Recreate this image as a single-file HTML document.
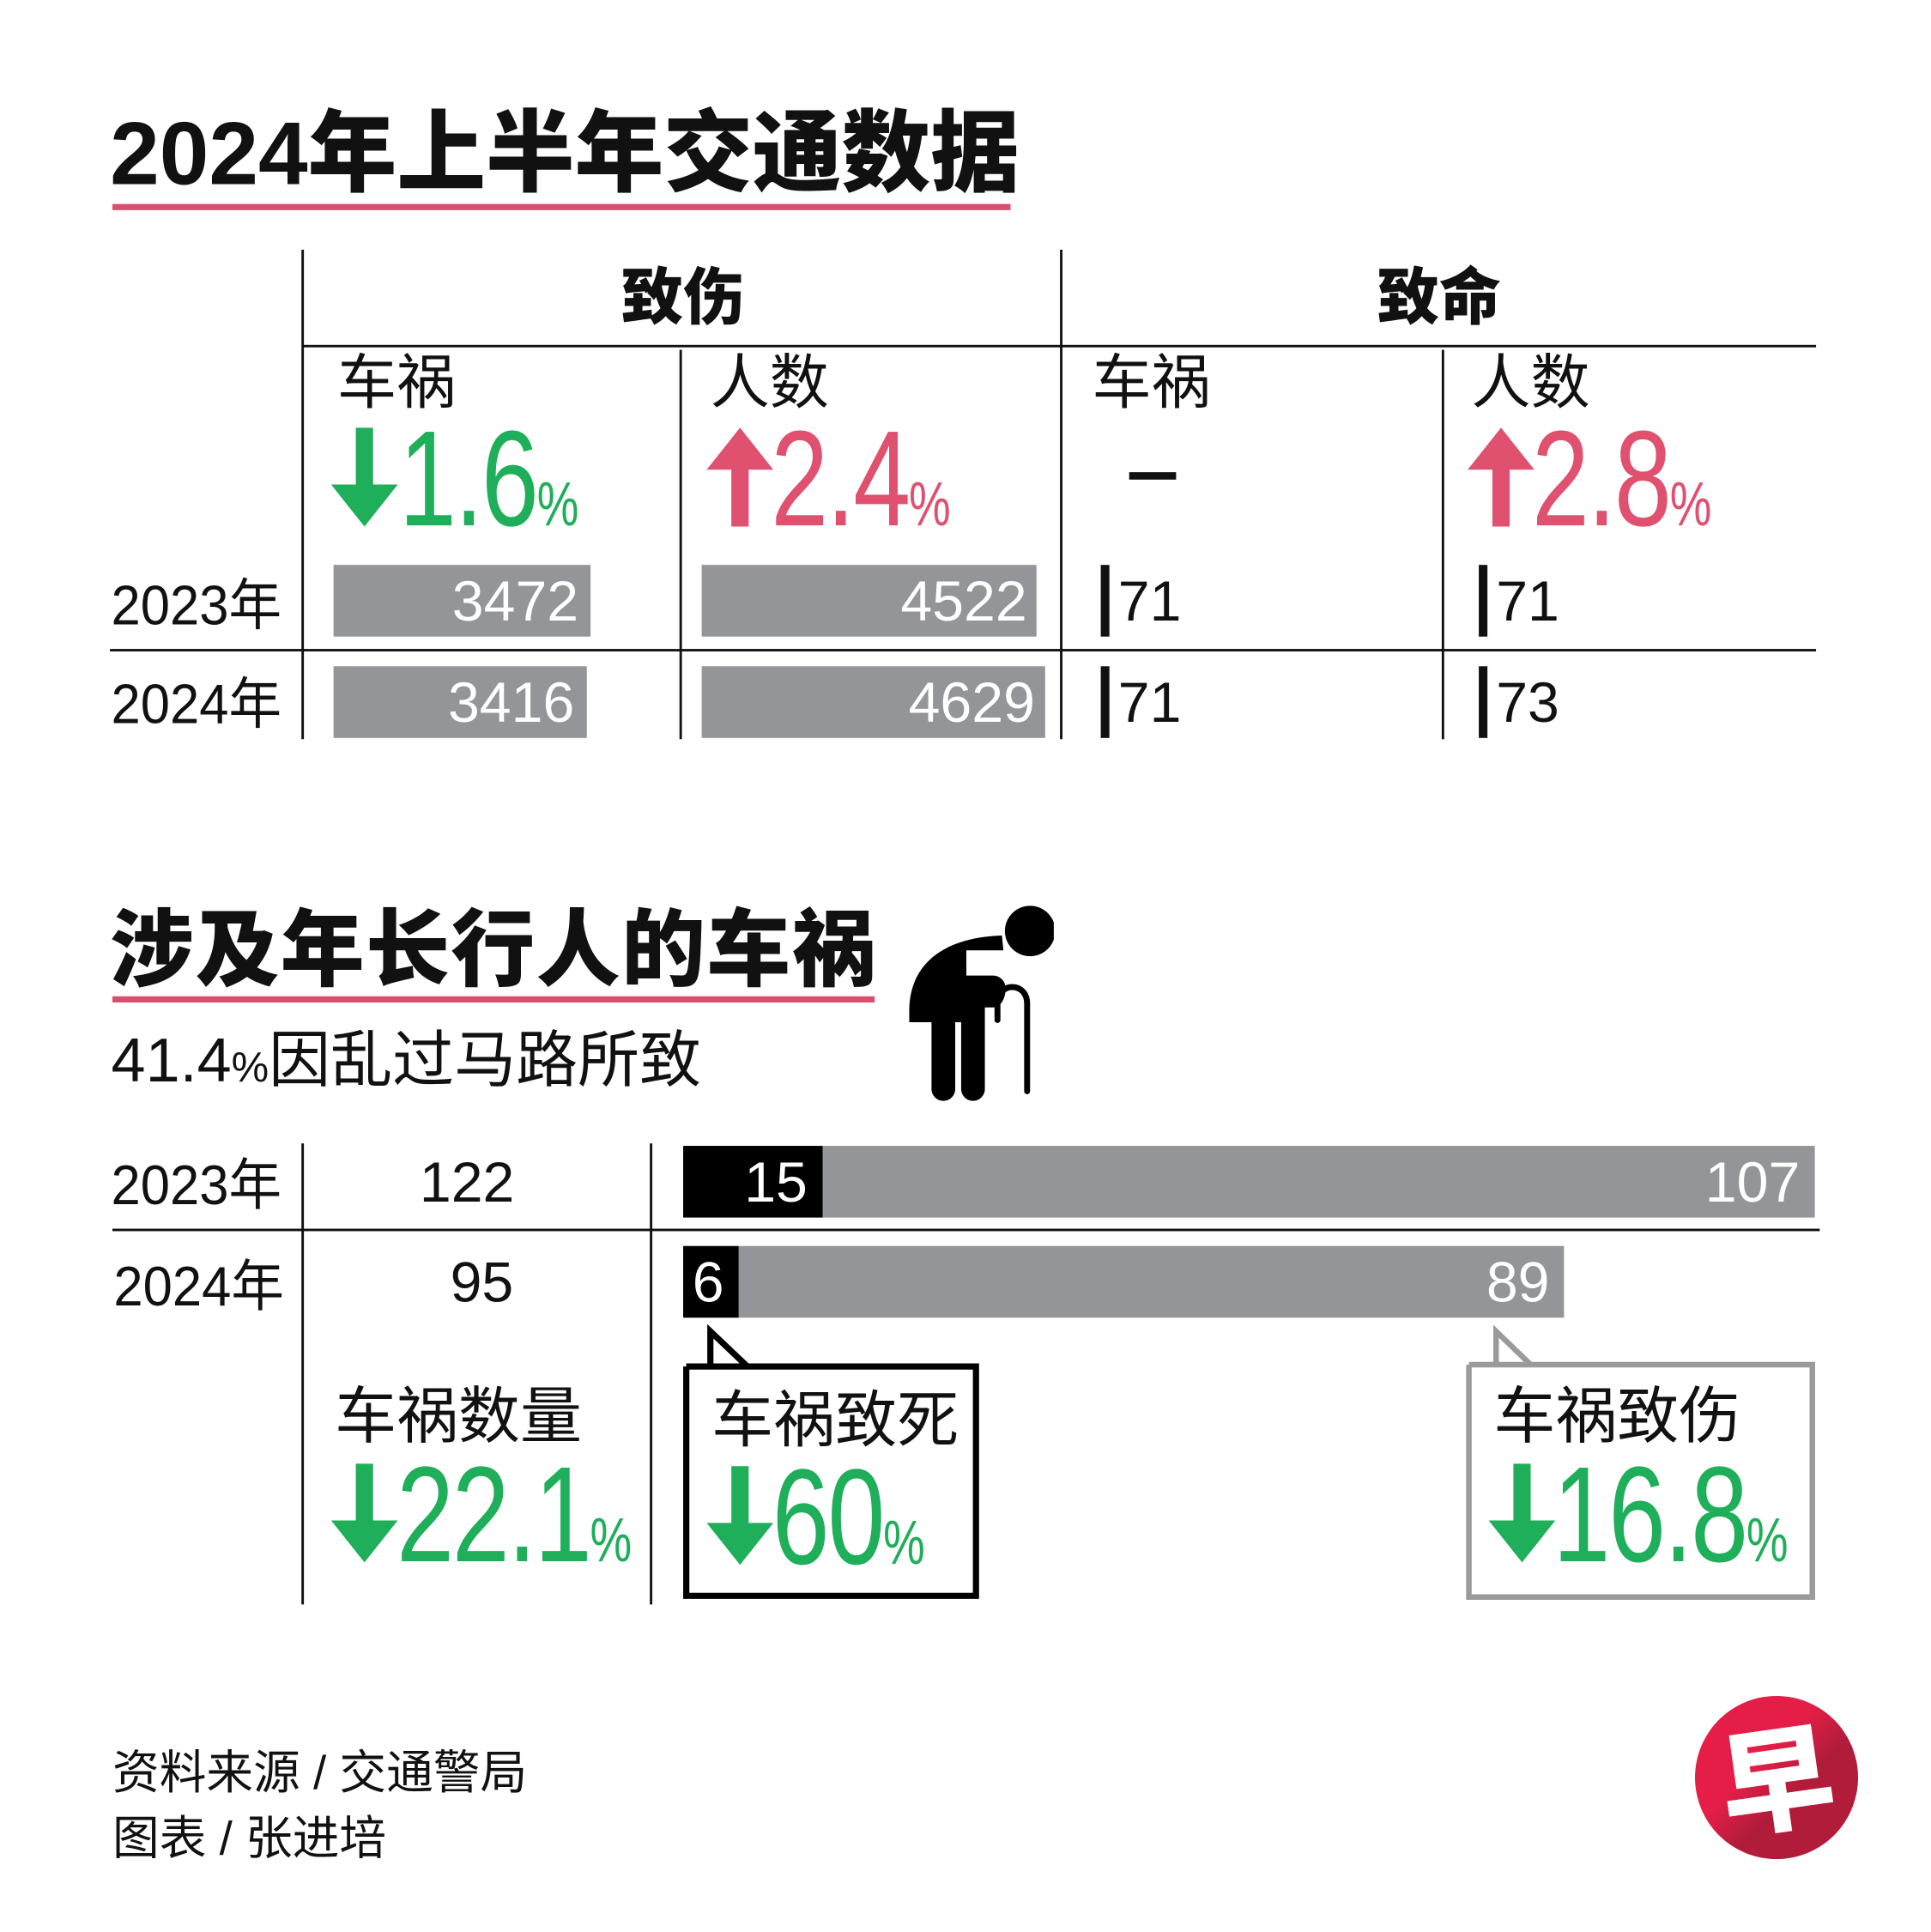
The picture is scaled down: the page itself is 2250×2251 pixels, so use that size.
<!DOCTYPE html>
<html><head><meta charset="utf-8">
<style>
html,body{margin:0;padding:0;background:#fff;}
body{width:2250px;height:2251px;overflow:hidden;position:relative;}
#stage{position:absolute;left:0;top:0;width:1563px;height:1563px;transform:scale(1.4395,1.4402);transform-origin:0 0;font-family:"Liberation Sans","Noto Sans CJK SC",sans-serif;color:#111;}
.a{position:absolute;white-space:nowrap;line-height:1;}
.cjk{font-family:"Liberation Sans","Noto Sans CJK SC",sans-serif;}
.num{font-family:"Liberation Sans","Noto Sans CJK SC",sans-serif;}
.ln{position:absolute;background:#111;}
.g{color:#1fae5a}.p{color:#e0506f}
.big{font-size:110px;line-height:1;letter-spacing:-2px;transform:scaleX(0.76);transform-origin:0 0;}
.pc{font-size:50px;letter-spacing:0}
.bar{position:absolute;background:#939598;}
.bv{position:absolute;color:#fff;font-size:46px;line-height:58px;text-align:right;}
.cond{display:inline-block;transform:scaleX(0.95);transform-origin:0 0;}
</style></head>
<body>
<div id="stage">
<div class="a cjk" style="left:89px;top:89px;font-size:72px;font-weight:900;letter-spacing:0px;">2024年上半年交通数据</div>
<div class="a" style="left:91px;top:165px;width:727px;height:5px;background:#d94f6e"></div>

<div class="ln" style="left:244px;top:202px;width:2px;height:396px"></div>
<div class="ln" style="left:858px;top:202px;width:2px;height:396px"></div>
<div class="ln" style="left:550px;top:283px;width:2px;height:315px"></div>
<div class="ln" style="left:1167px;top:283px;width:2px;height:315px"></div>
<div class="ln" style="left:245px;top:279px;width:1225px;height:2px"></div>
<div class="ln" style="left:89px;top:525px;width:1381px;height:2px"></div>

<div class="a cjk" style="left:503px;top:216px;font-size:50px;font-weight:900;">致伤</div>
<div class="a cjk" style="left:1115px;top:216px;font-size:50px;font-weight:900;">致命</div>
<div class="a cjk" style="left:273px;top:287px;font-size:48px;">车祸</div>
<div class="a cjk" style="left:575px;top:287px;font-size:48px;">人数</div>
<div class="a cjk" style="left:884px;top:287px;font-size:48px;">车祸</div>
<div class="a cjk" style="left:1191px;top:287px;font-size:48px;">人数</div>

<svg class="a" style="left:266px;top:346px" width="58" height="82"><path d="M22 0H36V46H56L29 80L2 46H22Z" fill="#1fae5a"/></svg>
<div class="a num g big" style="left:323px;top:333px;">1.6<span class="pc">%</span></div>
<svg class="a" style="left:570px;top:346px" width="58" height="82"><path d="M22 80H36V34H56L29 0L2 34H22Z" fill="#e0506f"/></svg>
<div class="a num p big" style="left:624px;top:333px;">2.4<span class="pc">%</span></div>
<div class="a" style="left:914px;top:382px;width:38px;height:6px;background:#111"></div>
<svg class="a" style="left:1186px;top:346px" width="58" height="82"><path d="M22 80H36V34H56L29 0L2 34H22Z" fill="#e0506f"/></svg>
<div class="a num p big" style="left:1240px;top:333px;">2.8<span class="pc">%</span></div>

<div class="a num" style="left:90px;top:467px;font-size:45px;"><span class="cond">2023<span class="cjk">年</span></span></div>
<div class="a num" style="left:90px;top:547px;font-size:45px;"><span class="cond">2024<span class="cjk">年</span></span></div>
<div id="tbars"></div>

<div class="a cjk" style="left:89px;top:735px;font-size:68px;font-weight:900;letter-spacing:1px;">涉及年长行人的车祸</div>
<div class="a" style="left:91px;top:806px;width:617px;height:5px;background:#d94f6e"></div>
<div class="a cjk" style="left:90px;top:833px;font-size:50px;">41.4<span style="font-size:34px">%</span>因乱过马路所致</div>

<svg class="a" style="left:733px;top:720px" width="120" height="172" viewBox="0 0 200 280">
<circle cx="168" cy="52" r="34" fill="#000"/>
<path d="M130 58 C60 60 5 90 5 160 V175 H35 V265 A16 16 0 0 0 67 265 V175 H75 V265 A16 16 0 0 0 107 265 V155 H118 C130 155 135 140 135 130 C135 118 126 112 118 112 H82 V78 L132 78 Z" fill="#000"/>
<path d="M124 172 V150 C124 120 164 120 164 150 V268" stroke="#000" stroke-width="8" fill="none" stroke-linecap="round"/>
</svg>

<div class="ln" style="left:244px;top:925px;width:2px;height:373px"></div>
<div class="ln" style="left:526px;top:925px;width:2px;height:373px"></div>
<div class="ln" style="left:91px;top:994px;width:1382px;height:2px"></div>
<div class="a num" style="left:90px;top:936px;font-size:45px;"><span class="cond">2023<span class="cjk">年</span></span></div>
<div class="a num" style="left:92px;top:1018px;font-size:45px;"><span class="cond">2024<span class="cjk">年</span></span></div>
<div id="ebars"></div>

<div class="a cjk" style="left:271px;top:1121px;font-size:50px;">车祸数量</div>
<svg class="a" style="left:266px;top:1184px" width="58" height="82"><path d="M22 0H36V46H56L29 80L2 46H22Z" fill="#1fae5a"/></svg>
<div class="a num g big" style="left:321px;top:1171px;">22.1<span class="pc">%</span></div>

<svg class="a" style="left:548px;top:1070px" width="250" height="230"><path d="M7.5 35.5 H57 L27 7 V35.5 M57 35.5 H242 V221 H7.5 V35.5" fill="#fff" stroke="#000" stroke-width="5"/></svg>
<div class="a cjk" style="left:576px;top:1124px;font-size:50px;">车祸致死</div>
<svg class="a" style="left:570px;top:1186px" width="58" height="82"><path d="M22 0H36V46H56L29 80L2 46H22Z" fill="#1fae5a"/></svg>
<div class="a num g big" style="left:625px;top:1173px;">60<span class="pc">%</span></div>

<svg class="a" style="left:1183px;top:1070px" width="292" height="230"><path d="M6 34 H56 L28 7 V34 M56 34 H284 V222 H6 V34" fill="#fff" stroke="#9a9a9c" stroke-width="4.5"/></svg>
<div class="a cjk" style="left:1209px;top:1121px;font-size:50px;">车祸致伤</div>
<svg class="a" style="left:1203px;top:1184px" width="58" height="82"><path d="M22 0H36V46H56L29 80L2 46H22Z" fill="#1fae5a"/></svg>
<div class="a num g big" style="left:1257px;top:1171px;">16.8<span class="pc">%</span></div>

<div class="a cjk" style="left:91px;top:1416px;font-size:38px;">资料来源 / 交通警局</div>
<div class="a cjk" style="left:91px;top:1469px;font-size:38px;">图表 / 张进培</div>

<svg class="a" style="left:1370px;top:1370px" width="136" height="136">
<defs><linearGradient id="lg" x1="0" y1="0" x2="1" y2="1"><stop offset="0.4" stop-color="#e41e47"/><stop offset="0.6" stop-color="#b01c3a"/></linearGradient></defs>
<circle cx="68" cy="68" r="66" fill="url(#lg)"/>
<text x="68" y="104" text-anchor="middle" font-family="Noto Sans CJK SC,sans-serif" font-weight="900" font-size="92" fill="#fff" transform="rotate(-8 68 68)">早</text>
</svg>
</div>
<script>
// Top table data
const years = ["2023", "2024"];
const injuryCrashes = [3472, 3416];
const injuryPeople = [4522, 4629];
const fatalCrashes = [71, 71];
const fatalPeople = [71, 73];
// Elderly pedestrian data
const elderTotals = [122, 95];
const elderFatal = [15, 6];
const elderInjury = [107, 89];

const tScale = v => v * 0.06;
const eScale = v => v * 7.508;
const tb = document.getElementById('tbars');
const rowTop = [457, 539];
function mk(parent, cls, style, text) {
  const d = document.createElement('div');
  d.className = cls;
  d.setAttribute('style', style);
  if (text !== undefined) d.textContent = text;
  parent.appendChild(d);
  return d;
}
years.forEach((y, i) => {
  const top = rowTop[i];
  const h = 58;
  let w = tScale(injuryCrashes[i]);
  let b = mk(tb, 'bar', `left:270px;top:${top}px;width:${w}px;height:${h}px`);
  
  
  let t = mk(tb, 'bv num', `left:270px;top:${top}px;width:${w - 10}px`, injuryCrashes[i]);
  
  
  w = tScale(injuryPeople[i]);
  b = mk(tb, 'bar', `left:568px;top:${top}px;width:${w}px;height:${h}px`);
  
  
  t = mk(tb, 'bv num', `left:568px;top:${top}px;width:${w - 8}px`, injuryPeople[i]);
  
  
  [[891, fatalCrashes[i]], [1197, fatalPeople[i]]].forEach(([x, v]) => {
    const fb = mk(tb, 'bar', `left:${x}px;top:${top}px;width:${Math.max(4, tScale(v) + 2.5)}px;height:${h}px;background:#111`);
    
    
    const ft = mk(tb, 'a num', `left:${x + 14}px;top:${top}px;font-size:46px;line-height:58px`, v);
    
    
  });
});
const eb = document.getElementById('ebars');
const eTop = [927, 1008];
const totalX = [378, 390];
years.forEach((y, i) => {
  const top = eTop[i];
  const tt = mk(eb, 'a num', `left:${totalX[i] - 60}px;width:120px;text-align:center;top:${top}px;font-size:46px;line-height:58px`, elderTotals[i]);
  
  
  const wf = eScale(elderFatal[i]);
  const wi = eScale(elderInjury[i]);
  const bf = mk(eb, 'bar', `left:553px;top:${top}px;width:${wf}px;height:58px;background:#000`);
  
  
  const bi = mk(eb, 'bar', `left:${553 + wf}px;top:${top}px;width:${wi}px;height:58px`);
  
  
  const lf = mk(eb, 'bv num', `left:553px;top:${top}px;width:${wf - 12}px`, elderFatal[i]);
  
  
  const li = mk(eb, 'bv num', `left:${553 + wf}px;top:${top}px;width:${wi - 12}px`, elderInjury[i]);
  
  
});
</script>
</body></html>
